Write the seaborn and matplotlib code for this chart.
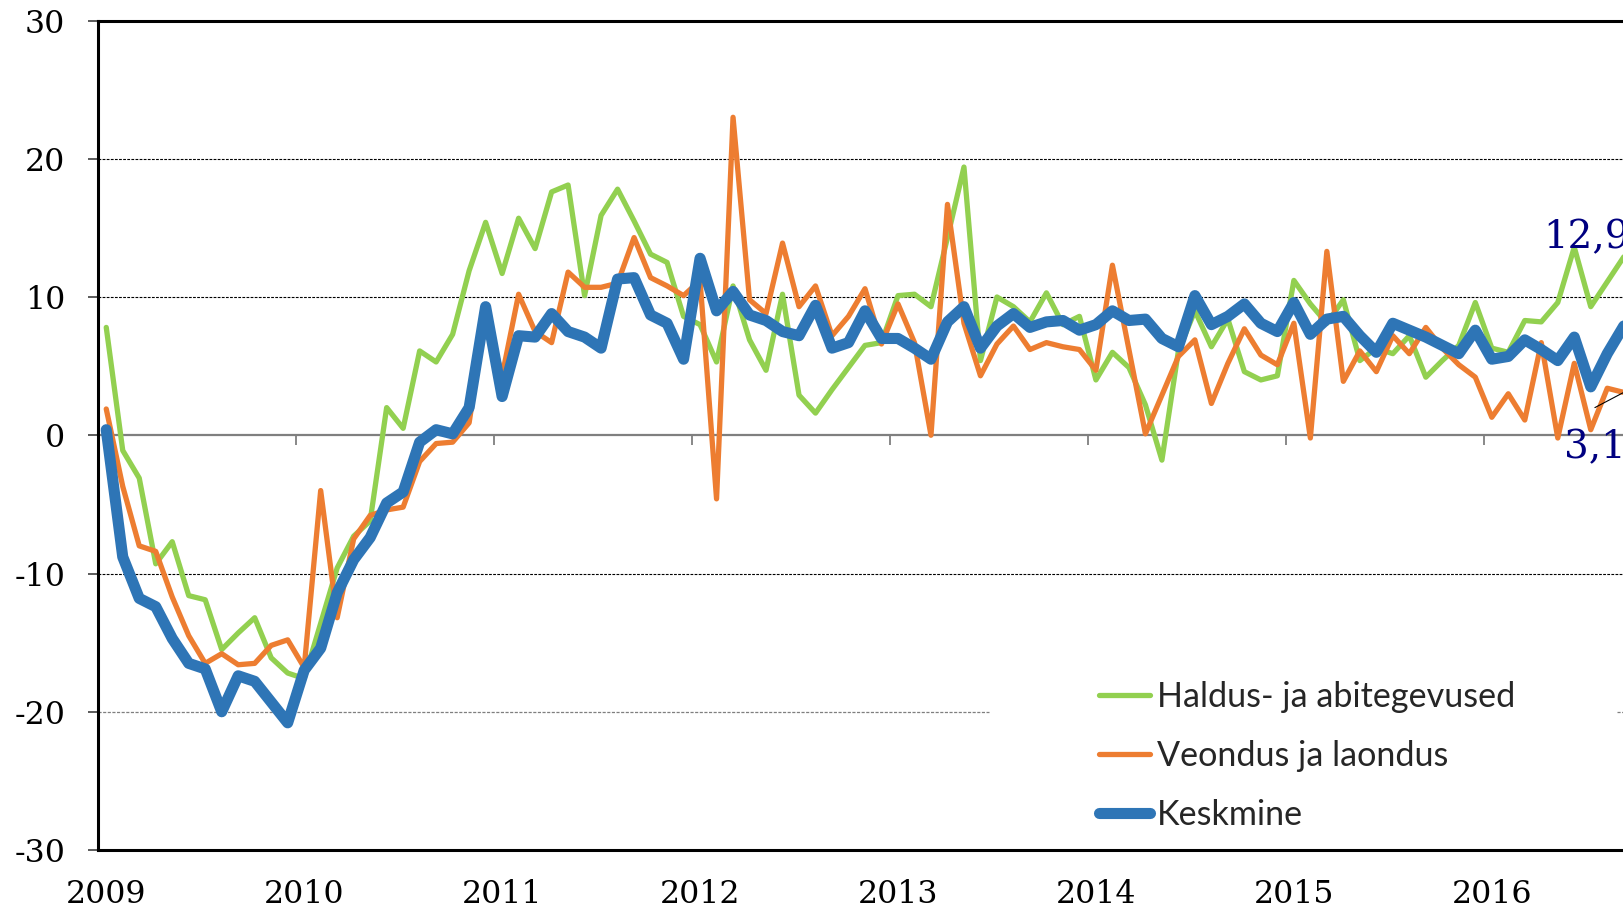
import numpy as np
import pandas as pd
import matplotlib
matplotlib.use('Agg')
from matplotlib import pyplot as plt
import seaborn as sns

sns.set_theme(style='white')
plt.rcParams['axes.unicode_minus'] = False

# Monthly values, Jan 2009 .. Sep 2016
years = ['2009', '2010', '2011', '2012', '2013', '2014', '2015', '2016']
y_ticks = [-30, -20, -10, 0, 10, 20, 30]

haldus = [7.8, -1.1, -3.1, -9.3, -7.7, -11.6, -11.9, -15.5, -14.3, -13.2, -16.1, -17.2,
          -17.6, -13.6, -9.6, -7.3, -6.2, 2.0, 0.5, 6.1, 5.3, 7.3, 11.9, 15.4,
          11.7, 15.7, 13.5, 17.6, 18.1, 10.1, 15.9, 17.8, 15.5, 13.1, 12.5, 8.6,
          8.0, 5.3, 10.8, 6.9, 4.7, 10.2, 2.9, 1.6, 3.3, 4.9, 6.5, 6.7,
          10.1, 10.2, 9.3, 14.3, 19.4, 5.4, 10.0, 9.3, 8.2, 10.3, 8.0, 8.6,
          4.0, 6.0, 4.9, 2.2, -1.8, 6.1, 9.0, 6.4, 8.4, 4.6, 4.0, 4.3,
          11.2, 9.5, 8.1, 9.8, 5.4, 6.3, 5.9, 7.2, 4.2, 5.4, 6.5, 9.6,
          6.3, 6.0, 8.3, 8.2, 9.6, 13.6, 9.3, 11.1, 12.9]

veondus = [1.9, -3.7, -8.0, -8.4, -11.7, -14.5, -16.5, -15.8, -16.6, -16.5, -15.2, -14.8,
           -16.8, -4.0, -13.2, -7.5, -5.8, -5.4, -5.2, -1.9, -0.6, -0.5, 0.9, 8.8,
           4.3, 10.2, 7.5, 6.7, 11.8, 10.7, 10.7, 11.0, 14.3, 11.4, 10.8, 10.1,
           11.2, -4.6, 23.0, 9.8, 8.8, 13.9, 9.3, 10.8, 7.2, 8.6, 10.6, 6.6,
           9.5, 6.7, 0.0, 16.7, 8.1, 4.3, 6.6, 7.9, 6.2, 6.7, 6.4, 6.2,
           4.7, 12.3, 6.2, 0.1, 2.9, 5.7, 6.9, 2.3, 5.2, 7.7, 5.8, 5.1,
           8.1, -0.2, 13.3, 3.9, 6.1, 4.6, 7.2, 5.9, 7.8, 6.3, 5.1, 4.2,
           1.3, 3.0, 1.1, 6.7, -0.2, 5.2, 0.4, 3.4, 3.1]

keskmine = [0.4, -8.8, -11.8, -12.4, -14.7, -16.5, -16.9, -20.0, -17.4, -17.8, -19.3, -20.8,
            -17.0, -15.4, -11.4, -9.0, -7.4, -4.9, -4.1, -0.5, 0.4, 0.1, 2.0, 9.3,
            2.8, 7.2, 7.1, 8.8, 7.5, 7.1, 6.3, 11.3, 11.4, 8.7, 8.1, 5.5,
            12.8, 9.0, 10.4, 8.7, 8.3, 7.5, 7.2, 9.4, 6.3, 6.7, 9.0, 7.0,
            7.0, 6.3, 5.5, 8.2, 9.3, 6.3, 7.9, 8.8, 7.8, 8.2, 8.3, 7.6,
            8.0, 9.0, 8.3, 8.4, 7.0, 6.4, 10.1, 8.0, 8.6, 9.5, 8.1, 7.5,
            9.6, 7.3, 8.4, 8.6, 7.2, 6.0, 8.1, 7.6, 7.1, 6.5, 5.9, 7.6,
            5.5, 5.7, 6.9, 6.2, 5.4, 7.1, 3.5, 5.9, 7.9]

series_names = ['Haldus- ja abitegevused', 'Veondus ja laondus', 'Keskmine']
series_colors = ['#92D050', '#ED7D31', '#2E75B6']
series_widths = [3.8, 3.8, 8.0]

months = np.arange(len(keskmine))
df = pd.DataFrame({
	'kuu': np.tile(months, 3),
	'muutus': haldus + veondus + keskmine,
	'sektor': np.repeat(series_names, len(months)),
})

W, H = 1624, 911
fig = plt.figure(figsize=(W / 100, H / 100), dpi=100)
ax = fig.add_axes([98 / W, 61 / H, 1534 / W, 829.5 / H])

# Lines
for i, (name, color, lw) in enumerate(zip(series_names, series_colors, series_widths)):
	sns.lineplot(data=df[df.sektor == name], x='kuu', y='muutus', color=color,
	             linewidth=lw, label=name, ax=ax, zorder=3 + i,
	             solid_joinstyle='round', solid_capstyle='round')

ax.set_xlim(-0.5, len(months) - 0.5)
ax.set_ylim(-30, 30)
ax.set_xlabel('')
ax.set_ylabel('')

# Grid lines
for v in [20, 10, -10]:
	ax.axhline(v, color='black', lw=0.8, ls=(0, (2.5, 1.2)), zorder=1)
ax.axhline(-20, xmax=0.581, color='#7f7f7f', lw=0.9, ls=(0, (2.5, 1.2)), zorder=1)
ax.axhline(-20, xmin=0.99, color='#7f7f7f', lw=0.9, ls=(0, (2.5, 1.2)), zorder=1)

# Spines
for s in ['left', 'top', 'bottom']:
	ax.spines[s].set_color('black')
	ax.spines[s].set_linewidth(2.2)
ax.spines['right'].set_visible(False)

# Ticks and labels
ax.set_xticks(np.arange(0, len(years) * 12, 12))
ax.set_xticklabels(years)
ax.set_yticks(y_ticks)
ax.set_yticklabels([str(t) for t in y_ticks])
ax.tick_params(axis='x', bottom=False, length=0, pad=21, labelsize=22.8,
               labelfontfamily='DejaVu Serif', labelcolor='black')
ax.tick_params(axis='y', left=True, direction='out', length=7.5, width=1.2,
               color='#404040', pad=16, labelsize=22.8,
               labelfontfamily='DejaVu Serif', labelcolor='black')

# Zero axis with year tick marks
sec = ax.secondary_xaxis(0, transform=ax.transData)
sec.set_xticks(np.arange(11.5, len(months), 12))
sec.tick_params(axis='x', bottom=True, direction='out', length=7, width=1.3,
                color='#7f7f7f', labelbottom=False)
sec.spines['bottom'].set_color('#7f7f7f')
sec.spines['bottom'].set_linewidth(1.6)

# End value labels (cut at the right edge, as in the source)
fmt = lambda v: f'{v:.1f}'.replace('.', ',')
ax.text(87.1, 14.3, fmt(haldus[-1]), color='#000080', fontsize=28,
        family='DejaVu Serif', ha='left', va='center', zorder=7)
ax.text(88.4, -0.9, fmt(veondus[-1]), color='#000080', fontsize=28,
        family='DejaVu Serif', ha='left', va='center', zorder=7)
ax.annotate('', xy=(months[-1], veondus[-1]), xytext=(90.25, 2.0),
            arrowprops=dict(arrowstyle='-', color='black', lw=0.8,
                            shrinkA=0, shrinkB=0), zorder=7)

# Legend
leg = ax.legend(loc='center left', bbox_to_anchor=(1082 / W, 1 - 756 / H),
                bbox_transform=fig.transFigure, frameon=False, borderpad=0,
                handlelength=1.5, handletextpad=0.2, labelspacing=0.8,
                prop={'family': 'Lato', 'size': 24.6})
for h in leg.get_lines():
	h.set_solid_capstyle('round')

fig.savefig('out.png', dpi=100)
